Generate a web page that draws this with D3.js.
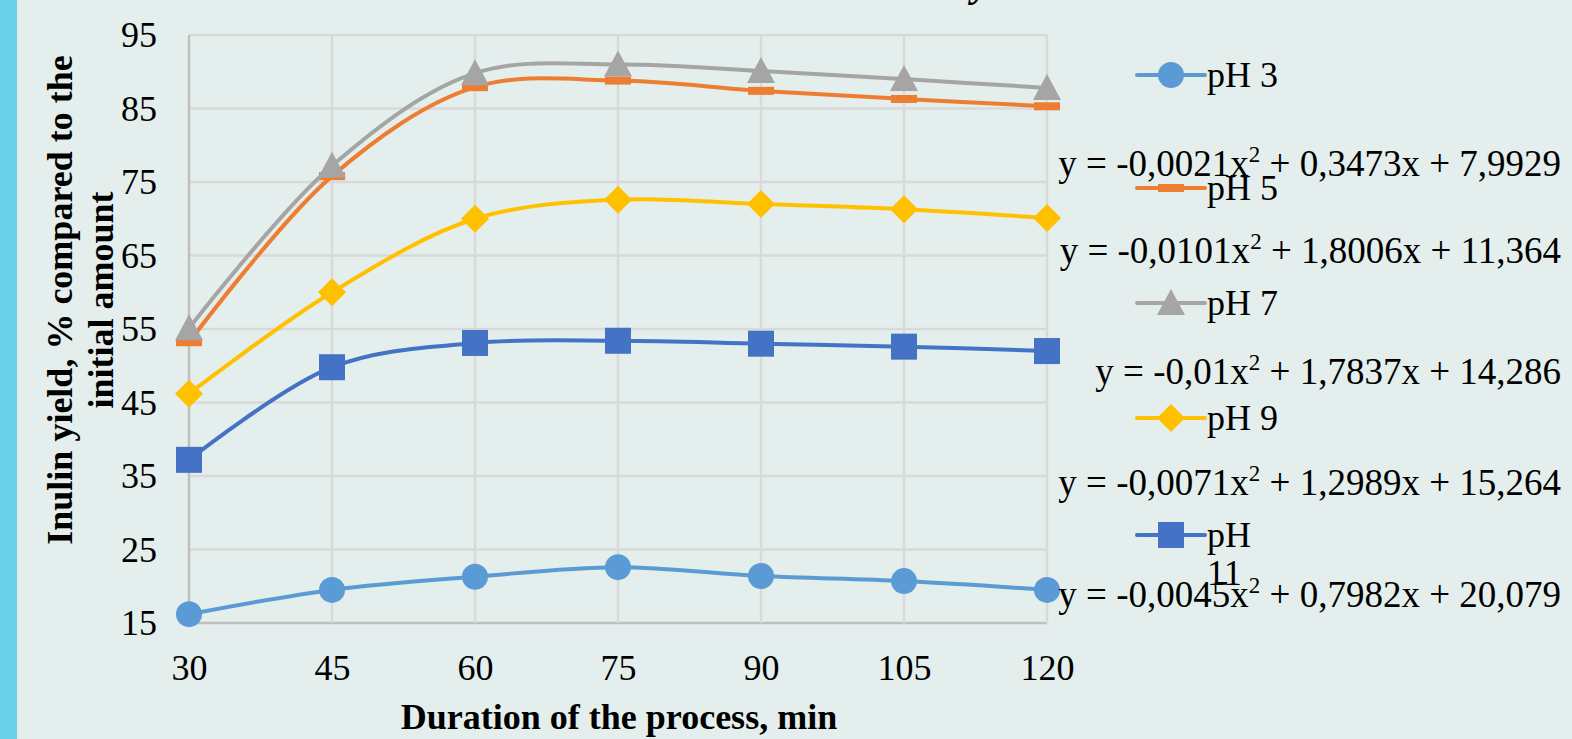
<!DOCTYPE html>
<html>
<head>
<meta charset="utf-8">
<script src="https://cdn.jsdelivr.net/npm/d3@7"></script>
<style>
  html, body { margin: 0; padding: 0; background: #e4eeec; }
  svg text { font-family: "Liberation Serif", "Times New Roman", serif; fill: #000; }
</style>
</head>
<body>
<div id="chart"></div>
<script>
const width = 1572;
const height = 739;

// data
const durations = [30, 45, 60, 75, 90, 105, 120];
const yTicks = [15, 25, 35, 45, 55, 65, 75, 85, 95];
const ph3 = [16.2, 19.5, 21.3, 22.6, 21.4, 20.7, 19.5];
const ph5 = [53.2, 75.8, 87.9, 88.8, 87.4, 86.3, 85.3];
const ph7 = [55.1, 77.2, 89.8, 91.0, 90.1, 89.0, 87.8];
const ph9 = [46.2, 60.0, 70.0, 72.6, 72.0, 71.3, 70.1];
const ph11 = [37.2, 49.8, 53.1, 53.4, 53.0, 52.6, 52.0];
const seriesNames = ["pH 3", "pH 5", "pH 7", "pH 9", "pH 11"];
const equations = [
    ["-0,0021", "0,3473", "7,9929"],
    ["-0,0101", "1,8006", "11,364"],
    ["-0,01", "1,7837", "14,286"],
    ["-0,0071", "1,2989", "15,264"],
    ["-0,0045", "0,7982", "20,079"]
];

const series = [
    { name: seriesNames[0], values: ph3, color: "#5b9bd5", marker: "circle" },
    { name: seriesNames[1], values: ph5, color: "#ed7d31", marker: "dash" },
    { name: seriesNames[2], values: ph7, color: "#a5a5a5", marker: "triangle" },
    { name: seriesNames[3], values: ph9, color: "#ffc000", marker: "diamond" },
    { name: seriesNames[4], values: ph11, color: "#4472c4", marker: "square" }
];

const margin = { left: 189, right: 1047, top: 35, bottom: 623 };

const svg = d3.select("#chart")
    .append("svg")
    .attr("width", width)
    .attr("height", height);

svg.append("rect")
    .attr("width", width)
    .attr("height", height)
    .attr("fill", "#e4eeec");

svg.append("rect")
    .attr("width", 17)
    .attr("height", height)
    .attr("fill", "#6ad2e8");

// cut-off title, only the descender shows
svg.append("text")
    .attr("x", 972)
    .attr("y", -4)
    .style("font-size", "40px")
    .style("font-weight", "bold")
    .style("font-style", "italic")
    .text("y");

const x = d3.scaleLinear()
    .domain([30, 120])
    .range([margin.left, margin.right]);

const y = d3.scaleLinear()
    .domain([15, 95])
    .range([margin.bottom, margin.top]);

// grid
svg.append("g")
    .selectAll("line.h")
    .data(yTicks)
    .enter().append("line")
    .attr("x1", margin.left)
    .attr("x2", margin.right)
    .attr("y1", d => y(d))
    .attr("y2", d => y(d))
    .attr("stroke", d => d === 15 ? "#bfbfbf" : "#d9d9d9")
    .attr("stroke-width", 2.5);

svg.append("g")
    .selectAll("line.v")
    .data(durations)
    .enter().append("line")
    .attr("x1", d => x(d))
    .attr("x2", d => x(d))
    .attr("y1", margin.top)
    .attr("y2", margin.bottom)
    .attr("stroke", d => d === 30 ? "#bfbfbf" : "#d9d9d9")
    .attr("stroke-width", 2.5);

// axes
const yAxis = svg.append("g")
    .attr("transform", `translate(${margin.left - 32},0)`)
    .call(d3.axisLeft(y).tickValues(yTicks).tickSize(0).tickPadding(0));
yAxis.select(".domain").remove();
yAxis.selectAll("text")
    .style("font-family", "'Liberation Serif', serif")
    .style("font-size", "36px")
    .attr("dy", "0.33em");

const xAxis = svg.append("g")
    .attr("transform", `translate(0,${margin.bottom + 31})`)
    .call(d3.axisBottom(x).tickValues(durations).tickSize(0).tickPadding(0));
xAxis.select(".domain").remove();
xAxis.selectAll("text")
    .style("font-family", "'Liberation Serif', serif")
    .style("font-size", "36px")
    .attr("dy", "0.71em");

svg.append("text")
    .attr("x", 619)
    .attr("y", 729)
    .attr("text-anchor", "middle")
    .style("font-size", "36px")
    .style("font-weight", "bold")
    .text("Duration of the process, min");

const yTitle = svg.append("text")
    .attr("transform", "translate(72,300) rotate(-90)")
    .attr("text-anchor", "middle")
    .style("font-size", "36px")
    .style("font-weight", "bold");
yTitle.append("tspan").attr("x", 0).attr("y", 0).text("Inulin yield, % compared to the");
yTitle.append("tspan").attr("x", 0).attr("y", 41).text("initial amount");

// lines
const line = d3.line()
    .x((d, i) => x(durations[i]))
    .y(d => y(d))
    .curve(d3.curveCatmullRom.alpha(0.5));

function drawMarker(g, type, color) {
    if (type === "circle") {
        g.append("circle").attr("r", 13).attr("fill", color);
    } else if (type === "dash") {
        g.append("rect").attr("x", -13).attr("y", -4).attr("width", 26).attr("height", 8).attr("fill", color);
    } else if (type === "triangle") {
        g.append("path").attr("d", "M0,-14 L14,12 L-14,12 Z").attr("fill", color);
    } else if (type === "diamond") {
        g.append("path").attr("d", "M0,-14 L14,0 L0,14 L-14,0 Z").attr("fill", color);
    } else if (type === "square") {
        g.append("rect").attr("x", -13).attr("y", -13).attr("width", 26).attr("height", 26).attr("fill", color);
    }
}

series.forEach(s => {
    svg.append("path")
        .datum(s.values)
        .attr("d", line)
        .attr("fill", "none")
        .attr("stroke", s.color)
        .attr("stroke-width", 4)
        .attr("stroke-linecap", "round");

    s.values.forEach((v, i) => {
        const g = svg.append("g")
            .attr("transform", `translate(${x(durations[i])},${y(v)})`);
        drawMarker(g, s.marker, s.color);
    });
});

// legend with trendline equations
const legendY = [75, 188, 303, 418, 535];
const eqY = [176, 263, 384, 495, 607];

series.forEach((s, i) => {
    const g = svg.append("g").attr("transform", `translate(1137,${legendY[i]})`);
    g.append("line")
        .attr("x1", 0).attr("x2", 68)
        .attr("stroke", s.color)
        .attr("stroke-width", 4)
        .attr("stroke-linecap", "round");
    drawMarker(g.append("g").attr("transform", "translate(34,0)"), s.marker, s.color);

    const label = g.append("text")
        .attr("x", 70)
        .attr("y", 12)
        .style("font-size", "36px");
    if (s.name === "pH 11") {
        label.append("tspan").attr("x", 70).text("pH");
        label.append("tspan").attr("x", 70).attr("dy", 38).text("11");
    } else {
        label.text(s.name);
    }

    const eq = equations[i];
    const t = svg.append("text")
        .attr("x", 1561)
        .attr("y", eqY[i])
        .attr("text-anchor", "end")
        .style("font-size", "37px");
    t.append("tspan").text(`y = ${eq[0]}x`);
    t.append("tspan").attr("dy", -14).style("font-size", "23px").text("2");
    t.append("tspan").attr("dy", 14).text(` + ${eq[1]}x + ${eq[2]}`);
});
</script>
</body>
</html>
